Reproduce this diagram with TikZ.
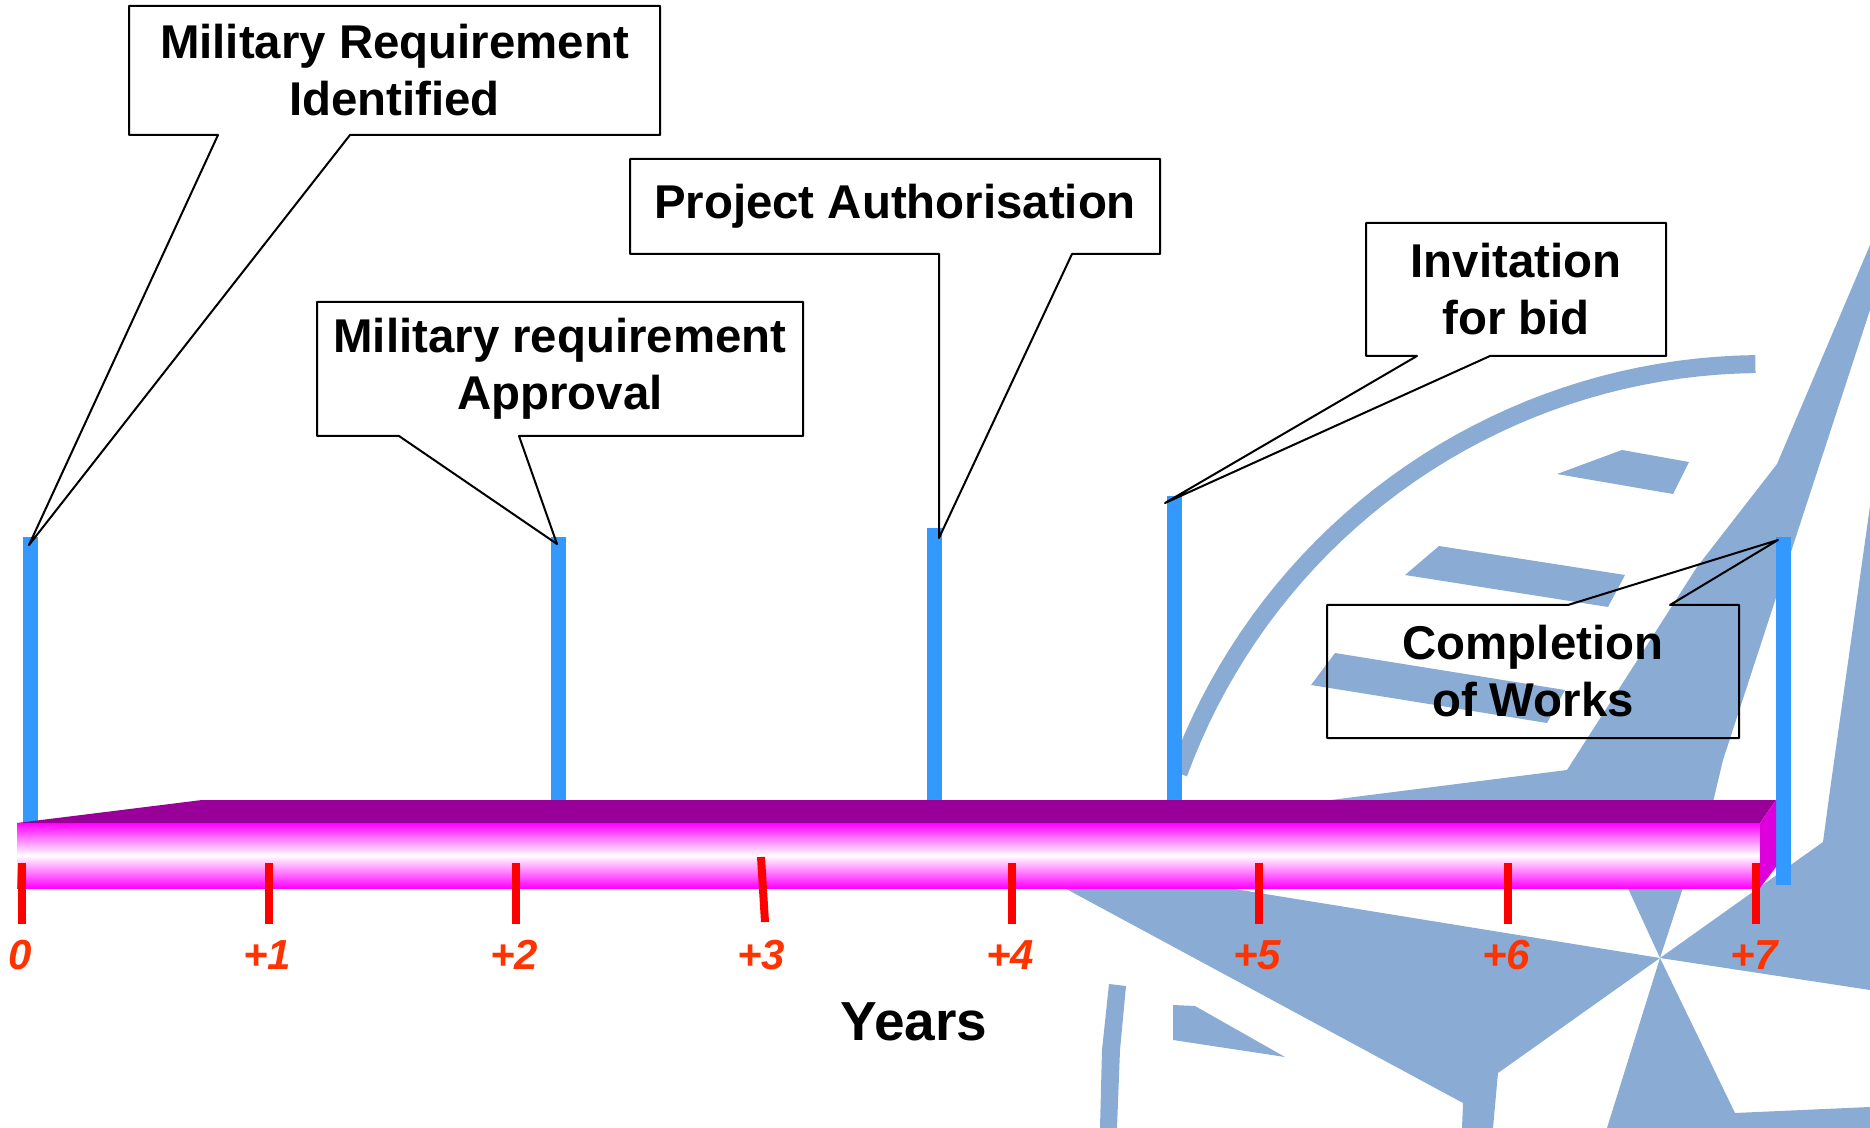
\documentclass[tikz,border=0pt]{standalone}
\usepackage{fontspec}
\setmainfont{Liberation Sans}

\definecolor{markblue}{HTML}{3399FF}
\definecolor{bartop}{HTML}{990099}
\definecolor{barside}{HTML}{DD00DD}
\definecolor{tickred}{HTML}{FF0000}
\definecolor{numred}{HTML}{FF3300}
\definecolor{emblem}{RGB}{138,172,212}

\begin{document}
\begin{tikzpicture}
        [x=0.5pt, y=-0.5pt,
        every node/.style={inner sep=0pt, outer sep=0pt},
        event/.style={font=\bfseries\fontsize{23.7}{28.5}\selectfont, align=center},
        yearnum/.style={font=\bfseries\itshape\fontsize{21}{21}\selectfont, text=numred},
        marker/.style={draw=markblue, line width=7.5pt},
        yeartick/.style={draw=tickred, line width=4pt},
        callout/.style={draw=black, line width=1pt, line join=round}]

    \useasboundingbox (0,0) rectangle (1870,1128);

    % emblem behind the time line
    \begin{scope}[fill=emblem]
      \clip (0,0) rectangle (1870,1128);
      \fill plot[domain=90.7:160, samples=40] ({1763+631*cos(\x)}, {986-631*sin(\x)})
        -- plot[domain=160:90.7, samples=40] ({1763+613*cos(\x)}, {986-613*sin(\x)}) -- cycle;
      \fill (1557,474) -- (1622,450) -- (1689,462) -- (1673,494) -- cycle;
      \fill (1405,575) -- (1439,546) -- (1625,575) -- (1608,607) -- cycle;
      \fill (1311,685) -- (1335,653) -- (1565,690) -- (1547,723) -- cycle;
      \fill (1870,245) -- (1777,464) -- (1697,567) -- (1567,770) -- (1315,802)
        -- (1713,802) -- (1723,760) -- (1870,310) -- cycle;
      \fill (1870,506) -- (1830,790) -- (1823,842) -- (1660,958) -- (1870,990) -- cycle;
      \fill (1660,958) -- (1615,860) -- (1692,860) -- cycle;
      \fill (1660,958) -- (994,850) -- (1463,1103) -- (1462,1128) -- (1493,1128)
        -- (1498,1073) -- cycle;
      \fill (1660,958) -- (1607,1128) -- (1870,1128) -- (1870,1107) -- (1735,1113) -- cycle;
      \fill (1109,984) -- (1126,986) -- (1120,1050) -- (1117,1128) -- (1100,1128)
        -- (1102,1050) -- cycle;
      \fill (1173,1005) -- (1195,1006) -- (1285,1057) -- (1173,1040) -- cycle;
    \end{scope}

    % milestone markers
    \coordinate (m0) at (30,537);
    \coordinate (m2) at (558,537);
    \coordinate (m3) at (934,528);
    \coordinate (m4) at (1174,496);
    \coordinate (m7) at (1783,537);
    \draw[marker] (m0) -- (30,830);
    \draw[marker] (m2) -- (558,810);
    \draw[marker] (m3) -- (934,810);
    \draw[marker] (m4) -- (1174,810);
    \draw[marker] (m7) -- (1783,885);

    % the time bar
    \fill[bartop] (17,823) -- (202,800) -- (1776,800) -- (1760,823) -- cycle;
    \shade[top color=magenta, bottom color=magenta, middle color=white]
      (17,823) rectangle (1760,888);
    \fill[barside] (1760,823) -- (1776,800) -- (1776,867) -- (1760,888) -- cycle;

    \draw[yeartick] (22,863) -- (22,924);
    \draw[yeartick] (269,863) -- (269,924);
    \draw[yeartick] (516,863) -- (516,924);
    \draw[yeartick] (761,857) -- (765,922);
    \draw[yeartick] (1012,863) -- (1012,924);
    \draw[yeartick] (1259,863) -- (1259,924);
    \draw[yeartick] (1508,863) -- (1508,924);
    \draw[yeartick] (1756,863) -- (1756,924);

    \node[yearnum] (y0) at (20,955) {0};
    \node[yearnum] (y1) at (267,955) {+1};
    \node[yearnum] (y2) at (514,955) {+2};
    \node[yearnum] (y3) at (761,955) {+3};
    \node[yearnum] (y4) at (1010,955) {+4};
    \node[yearnum] (y5) at (1257,955) {+5};
    \node[yearnum] (y6) at (1506,955) {+6};
    \node[yearnum] (y7) at (1754,955) {+7};

    \node[font=\bfseries\fontsize{27.5}{27.5}\selectfont] (years) at (914,1022) {Years};

    % callouts
    \node[event, minimum width=265.5pt, minimum height=64.5pt] (reqid) at (394.5,70.5)
      {Military Requirement\\Identified};
    \node[event, minimum width=243pt, minimum height=67pt] (reqok) at (560,369)
      {Military requirement\\Approval};
    \node[event, minimum width=265pt, minimum height=47.5pt] (auth) at (895,206.5)
      {Project Authorisation};
    \node[event, minimum width=150pt, minimum height=66.5pt] (bid) at (1516,289.5)
      {Invitation\\for bid};
    \node[event, minimum width=206pt, minimum height=66.5pt] (works) at (1533,671.5)
      {Completion\\of Works};

    \coordinate (reqidL) at (218,135);
    \coordinate (reqidR) at (350,135);
    \coordinate (t0) at (29,545);
    \coordinate (reqokL) at (399,436);
    \coordinate (reqokR) at (519,436);
    \coordinate (t2) at (557,544);
    \coordinate (authL) at (939,254);
    \coordinate (authR) at (1072,254);
    \coordinate (t3) at (939,538);
    \coordinate (bidL) at (1417,356);
    \coordinate (bidR) at (1490,356);
    \coordinate (t4) at (1165,503);
    \coordinate (worksL) at (1568,605);
    \coordinate (worksR) at (1670,605);
    \coordinate (t7) at (1778,540);

    \draw[callout] (reqidL) -- (reqid.south west) -- (reqid.north west) -- (reqid.north east)
      -- (reqid.south east) -- (reqidR) -- (t0) -- cycle;
    \draw[callout] (reqokL) -- (reqok.south west) -- (reqok.north west) -- (reqok.north east)
      -- (reqok.south east) -- (reqokR) -- (t2) -- cycle;
    \draw[callout] (authL) -- (auth.south west) -- (auth.north west) -- (auth.north east)
      -- (auth.south east) -- (authR) -- (t3) -- cycle;
    \draw[callout] (bidL) -- (bid.south west) -- (bid.north west) -- (bid.north east)
      -- (bid.south east) -- (bidR) -- (t4) -- cycle;
    \draw[callout] (worksL) -- (works.north west) -- (works.south west) -- (works.south east)
      -- (works.north east) -- (worksR) -- (t7) -- cycle;
\end{tikzpicture}
\end{document}
